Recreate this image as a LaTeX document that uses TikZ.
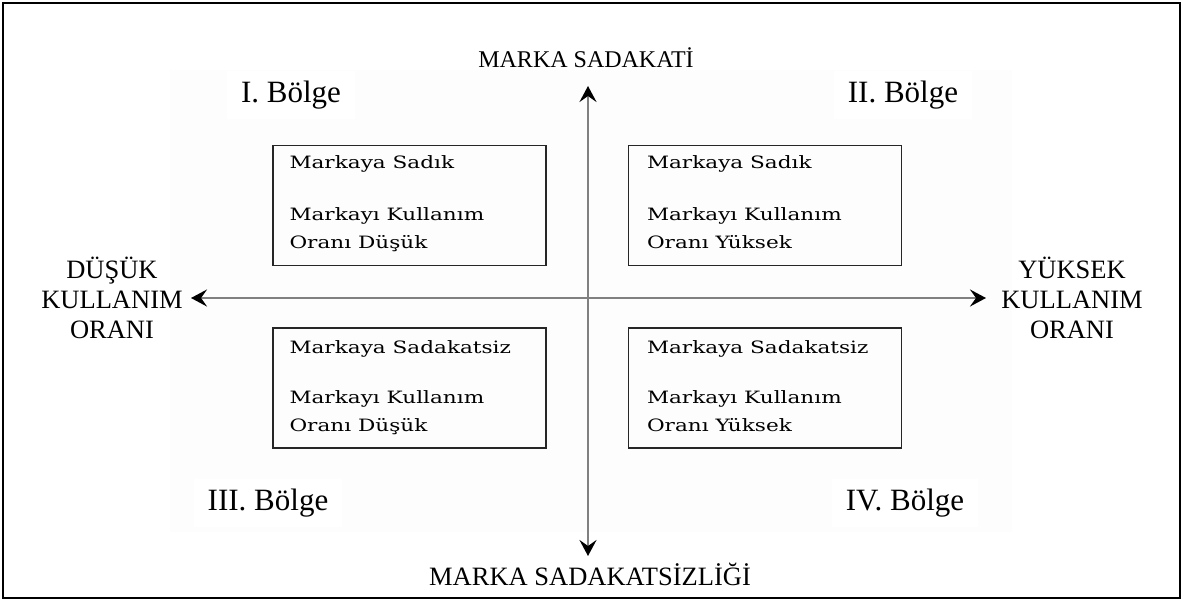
\documentclass[tikz,border=0pt]{standalone}
\usepackage{fontspec}
\setmainfont{Liberation Serif}
\newfontfamily\boxfont[FakeStretch=1.27]{DejaVu Serif}
\usetikzlibrary{arrows.meta}
\begin{document}
\begin{tikzpicture}[x=1pt,y=-1pt,
  axis/.style={draw=black!50, line width=2.5pt, {Stealth[length=16pt,width=17pt,inset=6pt,black]}-{Stealth[length=16pt,width=17pt,inset=6pt,black]}},
  cell/.style={draw=black!85, line width=1.4pt, minimum width=273pt, minimum height=120pt,
    inner sep=0pt},
  celltext/.style={anchor=north west, align=left, inner sep=0pt,
    font=\boxfont\fontsize{17}{28}\selectfont},
  region/.style={font=\fontsize{31}{36}\selectfont, fill=white, inner xsep=14pt, inner ysep=10pt},
  pole/.style={font=\fontsize{26.5}{30}\selectfont, align=center, inner sep=0pt}
]
\useasboundingbox (0,0) rectangle (1188,600);
% frame and faint background panel
\draw[line width=2pt] (3,3) rectangle (1180,598);
\fill[black!0.8] (170,70) rectangle (1012,532);

% quadrant boxes
\node[cell] (q1) at (409.5,205.5) {};
\node[cell] (q2) at (765,205.5) {};
\node[cell] (q3) at (409.5,388) {};
\node[cell] (q4) at (765,388) {};

\node[celltext] (t1) at ([xshift=17pt,yshift=-11pt]q1.north west)
  {Markaya Sadık\\[24pt]Markayı Kullanım\\Oranı Düşük};
\node[celltext] (t2) at ([xshift=19pt,yshift=-11pt]q2.north west)
  {Markaya Sadık\\[24pt]Markayı Kullanım\\Oranı Yüksek};
\node[celltext] (t3) at ([xshift=17pt,yshift=-13pt]q3.north west)
  {Markaya Sadakatsiz\\[22pt]Markayı Kullanım\\Oranı Düşük};
\node[celltext] (t4) at ([xshift=19pt,yshift=-13pt]q4.north west)
  {Markaya Sadakatsiz\\[22pt]Markayı Kullanım\\Oranı Yüksek};

% region labels
\node[region] (r1) at (291,95) {I. Bölge};
\node[region] (r2) at (903,95) {II. Bölge};
\node[region] (r3) at (268,503) {III. Bölge};
\node[region] (r4) at (905,503) {IV. Bölge};

% axis ends
\coordinate (top) at (588,86);
\coordinate (bot) at (588,556);
\coordinate (lft) at (191,298);
\coordinate (rgt) at (986,298);
\draw[axis] (top) -- (bot);
\draw[axis] (lft) -- (rgt);

% pole labels
\node[pole, font=\fontsize{24}{30}\selectfont] (p1) at (586,58) {MARKA SADAKATİ};
\node[pole] (p2) at (590,574) {MARKA SADAKATSİZLİĞİ};
\node[pole] (p3) at (112,298) {DÜŞÜK\\KULLANIM\\ORANI};
\node[pole] (p4) at (1072,298) {YÜKSEK\\KULLANIM\\ORANI};
\end{tikzpicture}
\end{document}
